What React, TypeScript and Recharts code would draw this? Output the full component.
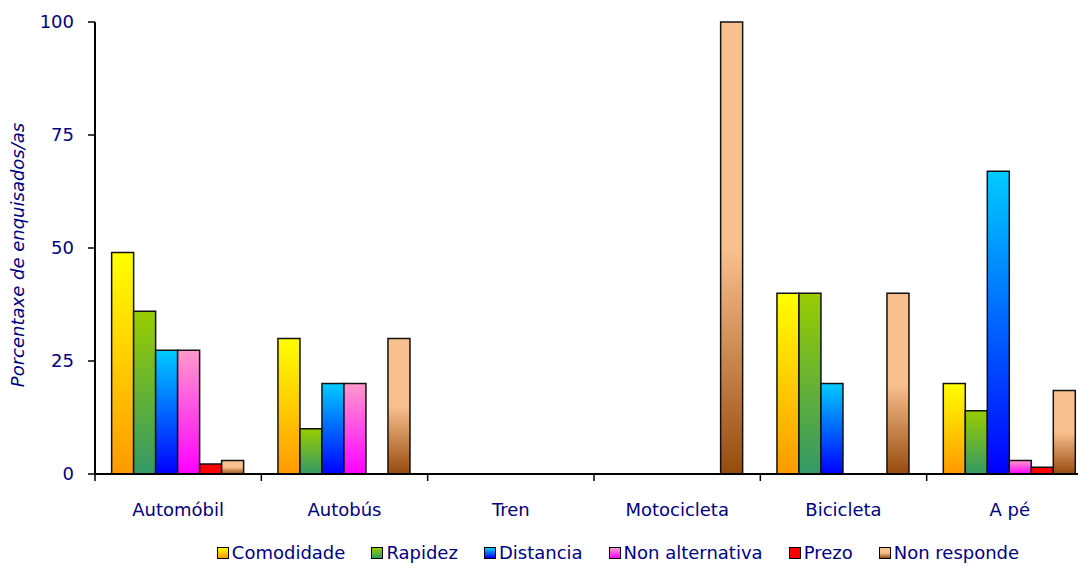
import { BarChart, Bar, XAxis, YAxis, Legend } from 'recharts'

const categories = ['Automóbil', 'Autobús', 'Tren', 'Motocicleta', 'Bicicleta', 'A pé']

const comodidade = [49, 30, 0, 0, 40, 20]
const rapidez = [36, 10, 0, 0, 40, 14]
const distancia = [27.4, 20, 0, 0, 20, 67]
const nonAlternativa = [27.4, 20, 0, 0, 0, 3]
const prezo = [2.2, 0, 0, 0, 0, 1.5]
const nonResponde = [3, 30, 0, 100, 40, 18.5]

const seriesKeys = ['comodidade', 'rapidez', 'distancia', 'nonAlternativa', 'prezo', 'nonResponde']
const seriesNames = ['Comodidade', 'Rapidez', 'Distancia', 'Non alternativa', 'Prezo', 'Non responde']
const seriesValues = [comodidade, rapidez, distancia, nonAlternativa, prezo, nonResponde]

const yTicks = [0, 25, 50, 75, 100]

// gradient stops (top -> bottom) for each series
const stops: Record<string, [number, string][]> = {
  comodidade: [[0, '#FFFF00'], [1, '#FF9900']],
  rapidez: [[0, '#99CC00'], [1, '#339966']],
  distancia: [[0, '#00CCFF'], [1, '#0000FF']],
  nonAlternativa: [[0, '#FF99CC'], [1, '#FF00FF']],
  prezo: [[0, '#FF0000'], [1, '#FF0000']],
  nonResponde: [[0, '#F9C08F'], [0.5, '#F9C08F'], [1, '#964B0E']],
}

const data = categories.map((name, i) => {
  const row: Record<string, string | number> = { name }
  seriesKeys.forEach((k, s) => { row[k] = seriesValues[s][i] })
  return row
})

const NAVY = '#000080'
const FONT = '"DejaVu Sans", sans-serif'
const CHART_W = 1085
const CHART_H = 559
const Y_W = 87
const PLOT_W = CHART_W - Y_W

const CategoryTick = (props: any) => {
  const { x, y, payload, index, visibleTicksCount } = props
  const band = PLOT_W / categories.length
  const left = x - band / 2
  return (
    <g>
      <line x1={left} y1={y} x2={left} y2={y + 7} stroke="#000" strokeWidth={1.5} />
      {index === visibleTicksCount - 1 && (
        <line x1={x + band / 2} y1={y} x2={x + band / 2} y2={y + 7} stroke="#000" strokeWidth={1.5} />
      )}
      <text x={x} y={y + 42} textAnchor="middle" fill={NAVY} fontSize={18} fontFamily={FONT}>
        {payload.value}
      </text>
    </g>
  )
}

const YLabel = (props: any) => {
  const vb = props.viewBox
  const cx = vb.x + 9
  const cy = vb.y + vb.height / 2 + 7
  return (
    <text x={cx} y={cy} textAnchor="middle" dominantBaseline="central" transform={`rotate(-90, ${cx}, ${cy})`}
      fill={NAVY} fontSize={18} fontStyle="italic" fontFamily={FONT}>
      Porcentaxe de enquisados/as
    </text>
  )
}

const LegendBox = () => (
  <div style={{ display: 'flex', justifyContent: 'center', gap: 26, fontFamily: FONT, fontSize: 18, color: NAVY, lineHeight: '18px' }}>
    {seriesKeys.map((k, s) => {
      const st = stops[k]
      const bg = `linear-gradient(to bottom, ${st.map(([o, c]) => `${c} ${o * 100}%`).join(', ')})`
      return (
        <div key={k} style={{ display: 'flex', alignItems: 'center' }}>
          <span style={{ display: 'inline-block', width: 10, height: 10, border: '1.5px solid #000', background: bg, marginRight: 3 }} />
          <span>{seriesNames[s]}</span>
        </div>
      )
    })}
  </div>
)

export default function App() {
  return (
    <div style={{ width: 1070, height: CHART_H, overflow: 'hidden' }}>
      <style>{'html, body { overflow: hidden; }'}</style>
      <BarChart width={CHART_W} height={CHART_H} data={data}
        margin={{ top: 14, right: 0, left: 0, bottom: 53 }}
        barCategoryGap="10%" barGap={0}>
        <defs>
          {seriesKeys.map((k) => (
            <linearGradient key={k} id={`grad-${k}`} x1="0" y1="0" x2="0" y2="1">
              {stops[k].map(([o, c], i) => <stop key={i} offset={o} stopColor={c} />)}
            </linearGradient>
          ))}
        </defs>
        <XAxis dataKey="name" height={40} tickLine={false} tickSize={0} tickMargin={0}
          axisLine={{ stroke: '#000', strokeWidth: 2 }} tick={<CategoryTick />} interval={0} />
        <YAxis width={Y_W} domain={[0, 100]} ticks={yTicks} tickSize={7} tickMargin={14}
          axisLine={{ stroke: '#000', strokeWidth: 2 }} tickLine={{ stroke: '#000', strokeWidth: 1.5 }}
          tick={{ fill: NAVY, fontSize: 18, fontFamily: FONT }}
          label={{ content: <YLabel /> }} />
        <Legend verticalAlign="middle" align="center" layout="horizontal"
          wrapperStyle={{ left: 190, top: 536, width: 840 }} content={() => <LegendBox />} />
        {seriesKeys.map((k, s) => (
          <Bar key={k} dataKey={k} name={seriesNames[s]} fill={`url(#grad-${k})`}
            stroke="#111" strokeWidth={1.5} isAnimationActive={false} />
        ))}
      </BarChart>
    </div>
  )
}
